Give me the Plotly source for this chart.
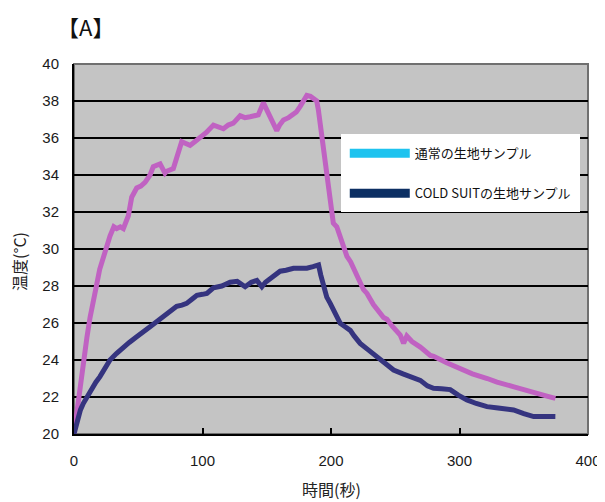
import plotly.graph_objects as go

# ---- data (time in seconds, temperature in °C) ----
normal_t = [0, 4, 7, 10, 12.5, 15, 17.7, 20, 22.8, 25, 28, 31, 33.2, 36, 38.4, 42.3, 44.9, 48.8, 52, 55.3,
            59.2, 61.7, 65.6, 67, 70.8, 72.1, 77.3, 80, 83.8, 87, 90.3, 94, 98.1, 103, 108.5, 112, 116.3,
            120, 124, 129.3, 133, 137, 140, 143.4, 147.4, 150, 152.5, 155, 157.8, 160, 163, 167, 170.8,
            173, 175.9, 179.8, 181.2, 184, 186.3, 188.9, 190.2, 192, 194, 196.5, 199.2, 201.8, 204.5,
            208, 212.4, 215.3, 220, 225.3, 228, 233, 240.9, 243.5, 248, 253.9, 256.5, 259, 263, 269.5,
            277.3, 279.9, 290, 300.8, 310, 321.6, 329.2, 342.4, 355.1, 360.4, 368, 374.6]
normal_v = [20.0, 22.3, 23.8, 25.2, 26.3, 27.3, 28.1, 28.9, 29.6, 30.2, 30.7, 31.2, 31.1, 31.2, 31.1, 31.8,
            32.8, 33.3, 33.4, 33.6, 34.0, 34.45, 34.6, 34.6, 34.1, 34.2, 34.35, 34.9, 35.8, 35.7, 35.6,
            35.8, 36.0, 36.3, 36.7, 36.6, 36.5, 36.7, 36.8, 37.2, 37.1, 37.15, 37.2, 37.25, 37.9, 37.5,
            37.2, 36.7, 36.4, 36.7, 36.97, 37.1, 37.25, 37.4, 37.7, 38.24, 38.3, 38.25, 38.15, 38.0, 37.5,
            36.5, 35.4, 34.2, 32.9, 31.4, 31.2, 30.4, 29.6, 29.3, 28.6, 27.8, 27.6, 27.0, 26.3, 26.2,
            25.8, 25.35, 24.9, 25.3, 25.0, 24.7, 24.25, 24.2, 23.85, 23.5, 23.25, 23.0, 22.8, 22.55,
            22.35, 22.2, 22.05, 21.93]

cold_t = [0, 3, 5, 7.3, 10, 13.8, 17, 20.2, 24, 28, 33, 38.4, 43, 48.8, 54, 59.2, 64, 69.5, 75, 79.9, 84,
          87.7, 92, 95.6, 100, 103.4, 108.5, 115, 121.5, 127, 133.2, 138, 142.3, 146.2, 149, 152.6, 156,
          160.4, 165, 170.8, 176, 181.2, 186, 190.3, 192, 194.2, 196.7, 199.4, 203, 207.2, 211, 215, 218,
          222.7, 229, 235.7, 242, 248.7, 256, 264.2, 269.5, 275, 279.8, 286, 292.8, 299, 305.8, 313,
          321.4, 330, 342.1, 350, 357.7, 365, 374.6]
cold_v = [20.0, 20.9, 21.3, 21.66, 22.0, 22.47, 22.8, 23.1, 23.55, 24.0, 24.35, 24.7, 24.95, 25.26, 25.5,
          25.8, 26.05, 26.34, 26.6, 26.9, 26.97, 27.06, 27.3, 27.5, 27.55, 27.6, 27.9, 28.0, 28.2, 28.25,
          27.96, 28.2, 28.3, 27.96, 28.2, 28.4, 28.6, 28.8, 28.85, 28.96, 28.96, 28.96, 29.05, 29.14,
          28.6, 27.96, 27.4, 27.06, 26.5, 25.98, 25.8, 25.6, 25.3, 24.9, 24.55, 24.18, 23.85, 23.46,
          23.25, 23.0, 22.9, 22.6, 22.47, 22.45, 22.4, 22.1, 21.84, 21.65, 21.48, 21.4, 21.3, 21.1,
          20.94, 20.95, 20.94]

series_names = ["通常の生地サンプル", "COLD SUITの生地サンプル"]
x_ticks = [0, 100, 200, 300, 400]
y_ticks = [20, 22, 24, 26, 28, 30, 32, 34, 36, 38, 40]
x_title = "時間(秒)"
y_title = "温度(°C)"
panel_label = "【A】"

LINE_NORMAL = "#c062c2"
LINE_COLD = "#35347f"
LEG_NORMAL = "#1ec3ef"
LEG_COLD = "#0c2f63"
JP = "Noto Sans CJK JP"

fig = go.Figure()
fig.add_trace(go.Scatter(x=normal_t, y=normal_v, mode="lines", showlegend=False,
                         line=dict(color=LINE_NORMAL, width=5)))
fig.add_trace(go.Scatter(x=cold_t, y=cold_v, mode="lines", showlegend=False,
                         line=dict(color=LINE_COLD, width=5)))
# legend entries (legend swatch colours differ from plotted lines in the original)
fig.add_trace(go.Scatter(x=[None], y=[None], mode="lines", name=series_names[0], legendgroup="a",
                         line=dict(color=LEG_NORMAL, width=9)))
fig.add_trace(go.Scatter(x=[None], y=[None], mode="lines", name=series_names[1], legendgroup="b",
                         line=dict(color=LEG_COLD, width=9)))

# page body has an 8px margin, so the figure is drawn 8px smaller and offset
fig.update_layout(
    width=597, height=494,
    margin=dict(l=66, r=17, t=56, b=68),
    paper_bgcolor="white",
    plot_bgcolor="#c4c4c4",
    font=dict(family="Arial, Liberation Sans, sans-serif", color="#1a1a1a", size=15),
    legend=dict(
        x=0.519, y=0.81, xanchor="left", yanchor="top",
        bgcolor="white", bordercolor="white", borderwidth=4,
        font=dict(family=JP, size=13, color="#111"),
        itemwidth=60, tracegroupgap=20, traceorder="grouped",
    ),
    annotations=[
        dict(text=panel_label, xref="paper", yref="paper", x=-0.036, y=1.103, xanchor="left",
             yanchor="middle", showarrow=False,
             font=dict(family=JP, size=22, color="#111")),
        dict(text=x_title, xref="paper", yref="paper", x=0.5, y=-0.15, xanchor="center",
             yanchor="middle", showarrow=False,
             font=dict(family=JP, size=16, color="#222")),
        dict(text=y_title, xref="paper", yref="paper", x=-0.107, y=0.465, xanchor="center",
             yanchor="middle", showarrow=False, textangle=-90,
             font=dict(family=JP, size=16, color="#222")),
    ],
    shapes=[
        dict(type="rect", xref="paper", yref="paper", x0=0, x1=1, y0=0, y1=1,
             line=dict(color="#707070", width=2), fillcolor="rgba(0,0,0,0)", layer="below"),
    ],
)

fig.update_xaxes(
    range=[0, 400], tickvals=x_ticks, ticks="inside", ticklen=6, tickwidth=2, tickcolor="black",
    showline=True, linecolor="black", linewidth=2, showgrid=False, zeroline=False,
    ticklabelstandoff=12, tickfont=dict(size=15, color="#1a1a1a"), automargin=False,
)
fig.update_yaxes(
    range=[20, 40], tickvals=y_ticks, ticks="", showline=True, linecolor="black", linewidth=2,
    showgrid=True, gridcolor="black", gridwidth=2, zeroline=False,
    ticklabelstandoff=10, tickfont=dict(size=15, color="#1a1a1a"), automargin=False,
)

fig.write_html("out.html")
